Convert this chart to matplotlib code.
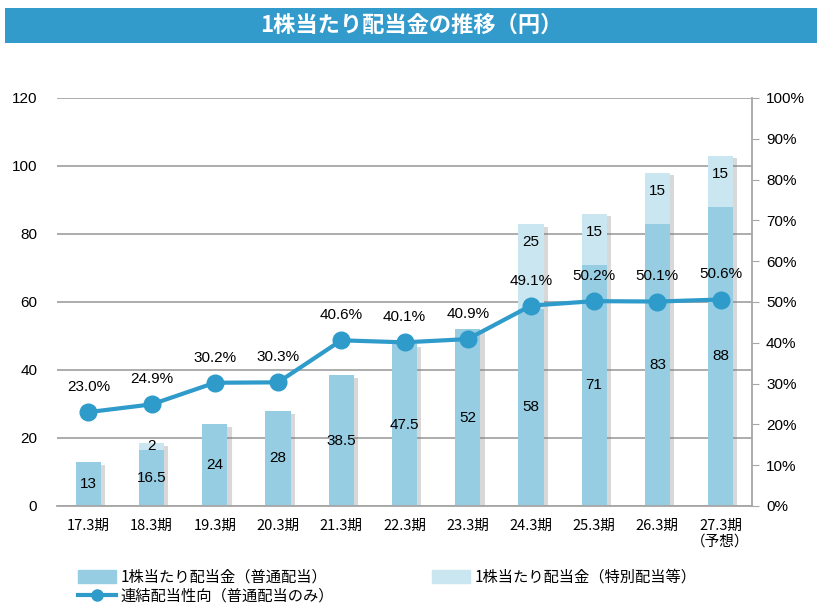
import matplotlib
matplotlib.use("Agg")
import matplotlib.pyplot as plt
import matplotlib.patheffects as pe
from matplotlib.patches import Rectangle
from matplotlib.lines import Line2D
import numpy as np

plt.rcParams['font.family'] = ['Liberation Sans', 'Noto Sans CJK JP']

periods = ["17.3期", "18.3期", "19.3期", "20.3期", "21.3期", "22.3期",
           "23.3期", "24.3期", "25.3期", "26.3期", "27.3期\n（予想）"]
regular = [13, 16.5, 24, 28, 38.5, 47.5, 52, 58, 71, 83, 88]
special = [0, 2, 0, 0, 0, 0, 0, 25, 15, 15, 15]
payout = [23.0, 24.9, 30.2, 30.3, 40.6, 40.1, 40.9, 49.1, 50.2, 50.1, 50.6]

c_reg = "#96CDE2"
c_spe = "#C9E6F1"
c_line = "#2E9BCB"
c_grid = "#A6A6A6"

fig = plt.figure(figsize=(8.23, 6.10), dpi=100)
ax = fig.add_axes([0.069, 0.1705, 0.845, 0.669])

# title bar
fig.patches.append(Rectangle((0.006, 0.9295), 0.987, 0.0574, transform=fig.transFigure,
                             facecolor="#339BCB", edgecolor="none"))
fig.text(0.5, 0.959, "1株当たり配当金の推移（円）", ha="center", va="center",
         color="white", fontsize=16, fontweight="bold", family=["Noto Sans CJK JP"])

x = np.arange(len(periods))
total = [r + s for r, s in zip(regular, special)]
# soft drop shadow behind the stacked bars
ax.bar(x, total, width=0.4, color="none", zorder=2,
       path_effects=[pe.SimplePatchShadow(offset=(3, -2), shadow_rgbFace="#7F7F7F", alpha=0.3)])
ax.bar(x, regular, width=0.4, color=c_reg, zorder=2.1)
ax.bar(x, special, width=0.4, bottom=regular, color=c_spe, zorder=2.1)

for i in range(len(x)):
    ax.text(x[i], regular[i] / 2, f"{regular[i]:g}", ha="center", va="center", fontsize=11, zorder=5)
    if special[i]:
        ypos = max(regular[i] + special[i] / 2, total[i] - 5.5)
        ax.text(x[i], ypos, f"{special[i]:g}", ha="center", va="center", fontsize=11, zorder=5)

ax.set_ylim(0, 120)
ax.set_xlim(-0.5, len(x) - 0.5)
ax.set_yticks(range(0, 121, 20))
ax.yaxis.grid(True, color=c_grid, linewidth=1.3)
ax.set_axisbelow(True)
for s in ["left", "top", "right"]:
    ax.spines[s].set_visible(False)
ax.spines["bottom"].set_color(c_grid)
ax.spines["bottom"].set_linewidth(1.3)
ax.tick_params(axis="y", length=0, labelsize=11, pad=14)
ax.tick_params(axis="x", length=0, labelsize=10.5, pad=9)
ax.set_xticks(x)
ax.set_xticklabels(periods, family=["Noto Sans CJK JP"])

ax2 = ax.twinx()
ax2.set_ylim(0, 100)
ax2.set_yticks(range(0, 101, 10))
ax2.set_yticklabels([f"{v}%" for v in range(0, 101, 10)])
for s in ["left", "top", "bottom"]:
    ax2.spines[s].set_visible(False)
ax2.spines["right"].set_color(c_grid)
ax2.spines["right"].set_linewidth(1.3)
ax2.tick_params(axis="y", direction="out", length=5, color=c_grid, labelsize=11, pad=5)
ax2.plot(x, payout, color=c_line, linewidth=3, marker="o", markersize=12, zorder=4)
for i in range(len(x)):
    ax2.annotate(f"{payout[i]:.1f}%", (x[i], payout[i]), xytext=(0, 13), textcoords="offset points",
                 ha="center", va="bottom", fontsize=11)

h_reg = Rectangle((0, 0), 1, 1, color=c_reg)
h_spe = Rectangle((0, 0), 1, 1, color=c_spe)
h_line = Line2D([], [], color=c_line, linewidth=3, marker="o", markersize=8)
# legend fills column by column: reg / line in col 1, special in col 2
fig.legend([h_reg, h_line, h_spe],
           ["1株当たり配当金（普通配当）", "連結配当性向（普通配当のみ）", "1株当たり配当金（特別配当等）"],
           loc="lower left", bbox_to_anchor=(0.078, -0.014), ncol=2, frameon=False,
           prop={"family": ["Noto Sans CJK JP"], "size": 11}, handlelength=2.5, handleheight=0.9,
           columnspacing=6.4, labelspacing=0.15, handletextpad=0.3)

fig.savefig("out.png", dpi=100)
